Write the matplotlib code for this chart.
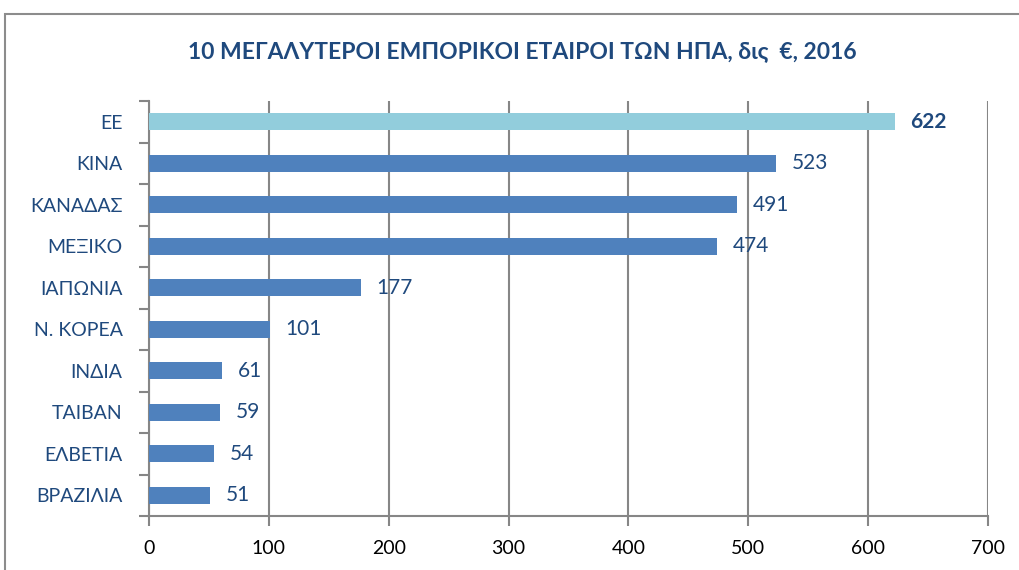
import matplotlib.pyplot as plt
from matplotlib.patches import Rectangle
import numpy as np

countries = ['ΕΕ', 'ΚΙΝΑ', 'ΚΑΝΑΔΑΣ', 'ΜΕΞΙΚΟ', 'ΙΑΠΩΝΙΑ', 'Ν. ΚΟΡΕΑ',
             'ΙΝΔΙΑ', 'ΤΑΙΒΑΝ', 'ΕΛΒΕΤΙΑ', 'ΒΡΑΖΙΛΙΑ']
values = [622, 523, 491, 474, 177, 101, 61, 59, 54, 51]
xticks = [0, 100, 200, 300, 400, 500, 600, 700]
title = '10 ΜΕΓΑΛΥΤΕΡΟΙ ΕΜΠΟΡΙΚΟΙ ΕΤΑΙΡΟΙ ΤΩΝ ΗΠΑ, δις  €, 2016'

navy = '#1F497D'
grey = '#868686'
plt.rcParams['font.family'] = ['Lato', 'DejaVu Sans']

fig = plt.figure(figsize=(10.2, 5.7), dpi=100)
# outer chart frame (runs off the right and bottom edge)
fig.patches.append(Rectangle((5 / 1020, -0.05), 1.1, 1 - 14 / 570 + 0.05,
                             transform=fig.transFigure, fill=False,
                             ec='#8c8c8c', lw=1.5))

ax = fig.add_axes([149 / 1020, 1 - 516 / 570, (988 - 149) / 1020, (516 - 101) / 570])

y = np.arange(len(countries))
colors = ['#92CDDC'] + ['#4F81BD'] * (len(countries) - 1)
ax.barh(y, values, height=0.4, color=colors, zorder=3)

for i, v in enumerate(values):
    ax.text(v + 13, i, str(v), va='center', ha='left', color=navy,
            fontsize=15, fontweight='bold' if i == 0 else 'normal')

ax.set_xlim(0, 700)
ax.set_ylim(len(countries) - 0.5, -0.5)
ax.set_xticks(xticks)
ax.set_xticklabels([str(t) for t in xticks], fontsize=14, color='black')
ax.set_yticks(y)
ax.set_yticklabels(countries, fontsize=14, color=navy)
ax.tick_params(axis='y', length=0, pad=19)
ax.set_yticks(np.arange(-0.5, len(countries), 1), minor=True)
ax.tick_params(axis='y', which='minor', length=7, width=1.5, color=grey)
ax.tick_params(axis='x', length=7, width=1.5, color=grey, pad=10)

ax.grid(axis='x', color=grey, lw=1.5, zorder=0)
for s in ['top', 'right']:
    ax.spines[s].set_visible(False)
for s in ['left', 'bottom']:
    ax.spines[s].set_color(grey)
    ax.spines[s].set_linewidth(1.5)

fig.text(522 / 1020, 1 - 52 / 570, title, ha='center', va='center',
         fontsize=16.5, fontweight='bold', color=navy)

fig.savefig('out.png', dpi=100)
